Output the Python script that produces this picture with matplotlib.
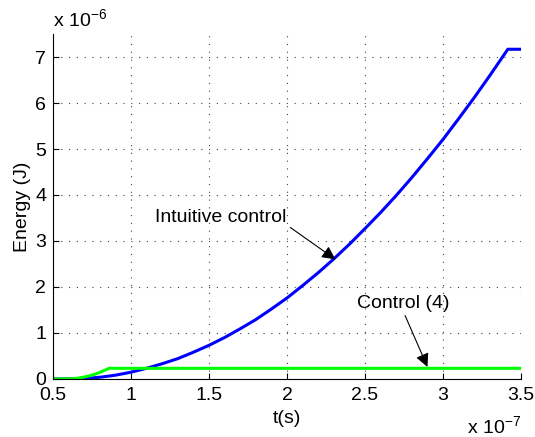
import matplotlib
matplotlib.use("Agg")
import matplotlib.pyplot as plt

plt.rcParams['font.family'] = ['Liberation Sans', 'DejaVu Sans']

# time in units of 1e-7 s, energy in units of 1e-6 J
t_intuitive = [0.5, 0.6, 0.7, 0.8, 0.9, 1.0, 1.1, 1.2, 1.3, 1.4, 1.5, 1.6, 1.7,
               1.8, 1.9, 2.0, 2.1, 2.2, 2.3, 2.4, 2.5, 2.6, 2.7, 2.8, 2.9, 3.0,
               3.1, 3.2, 3.3, 3.415, 3.5]
e_intuitive = [0.0, 0.0, 0.01, 0.035, 0.08, 0.145, 0.23, 0.33, 0.44, 0.58,
               0.73, 0.9, 1.09, 1.29, 1.52, 1.76, 2.03, 2.31, 2.61, 2.93, 3.27,
               3.62, 3.99, 4.38, 4.79, 5.21, 5.66, 6.12, 6.60, 7.17, 7.17]

t_control4 = [0.5, 0.6, 0.65, 0.7, 0.75, 0.8, 0.86, 3.5]
e_control4 = [0.0, 0.0, 0.01, 0.04, 0.08, 0.14, 0.23, 0.23]

xticks = [0.5, 1, 1.5, 2, 2.5, 3, 3.5]
xticklabels = ['0.5', '1', '1.5', '2', '2.5', '3', '3.5']
yticks = [0, 1, 2, 3, 4, 5, 6, 7]
yticklabels = ['0', '1', '2', '3', '4', '5', '6', '7']

FS = 14

fig = plt.figure(figsize=(5.35, 4.37), dpi=100)
ax = fig.add_axes([0.099, 0.133, 0.875, 0.789])

ax.plot(t_intuitive, e_intuitive, color='#0000ff', lw=2.2, solid_capstyle='butt')
ax.plot(t_control4, e_control4, color='#00ff00', lw=2.2, solid_capstyle='butt')

ax.set_xlim(0.5, 3.5)
ax.set_ylim(0, 7.5)
ax.set_xticks(xticks)
ax.set_xticklabels(xticklabels)
ax.set_yticks(yticks)
ax.set_yticklabels(yticklabels)
ax.tick_params(direction='in', length=4, width=0.8, labelsize=FS)
ax.tick_params(axis='x', pad=6)
ax.tick_params(axis='y', pad=5)
for s in ['top', 'right']:
    ax.spines[s].set_visible(False)
for s in ['left', 'bottom']:
    ax.spines[s].set_linewidth(0.8)
ax.grid(True, linestyle=(0, (1, 6)), color='#444444', lw=0.8)
ax.set_axisbelow(True)

ax.set_xlabel('t(s)', fontsize=FS, labelpad=4)
ax.set_ylabel('Energy (J)', fontsize=FS, labelpad=3)

ax.text(0.0, 1.008, r'x 10$^{\mathregular{-6}}$', transform=ax.transAxes,
        fontsize=FS, ha='left', va='bottom')
ax.text(1.0, -0.105, r'x 10$^{\mathregular{-7}}$', transform=ax.transAxes,
        fontsize=FS, ha='right', va='top')

ax.annotate('Intuitive control', xy=(2.31, 2.6), xytext=(1.154, 3.52),
            fontsize=FS, ha='left', va='center',
            arrowprops=dict(arrowstyle='-|>', color='black', lw=0.8,
                            mutation_scale=20, shrinkA=1, shrinkB=0,
                            relpos=(1.0, 0.05)),
            )
ax.annotate('Control (4)', xy=(2.9, 0.26), xytext=(2.449, 1.65),
            fontsize=FS, ha='left', va='center',
            arrowprops=dict(arrowstyle='-|>', color='black', lw=0.8,
                            mutation_scale=20, shrinkA=1, shrinkB=0,
                            relpos=(0.5, 0.0)),
            )

fig.savefig('out.png', dpi=100)
